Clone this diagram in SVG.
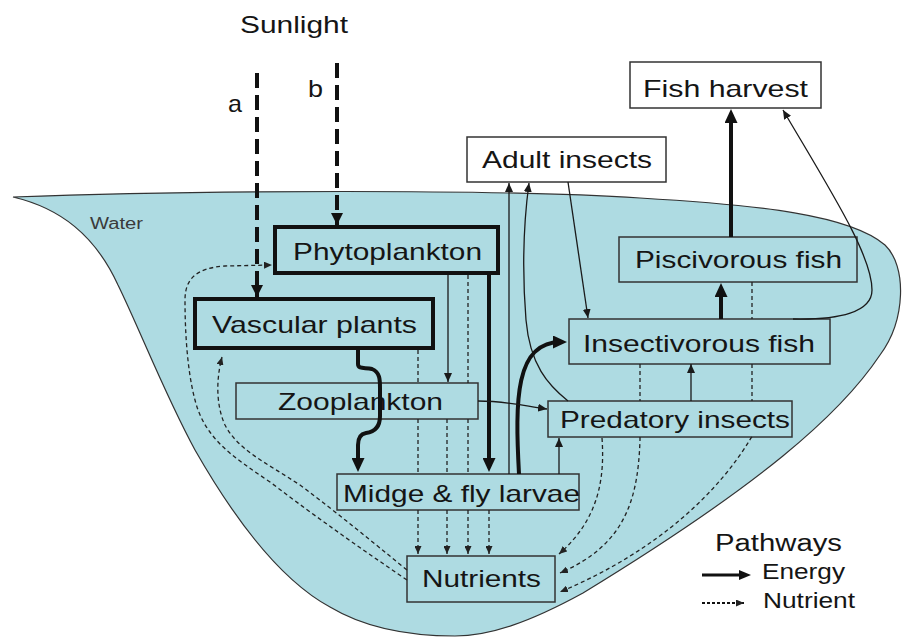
<svg xmlns="http://www.w3.org/2000/svg" width="907" height="638" viewBox="0 0 907 638">
<style>
text{font-family:"Liberation Sans",Arial,Helvetica,sans-serif;fill:#151515}
.lbl{font-size:24px;text-anchor:middle}
.box{fill:#aedbe2;stroke:#333;stroke-width:1.5}
.boxw{fill:#fff;stroke:#333;stroke-width:1.5}
.boxt{fill:#aedbe2;stroke:#111;stroke-width:4}
.en{fill:none;stroke:#1a1a1a;stroke-width:1.3}
.enT{fill:none;stroke:#111;stroke-width:4}
.nu{fill:none;stroke:#222;stroke-width:1.3;stroke-dasharray:4 3}
.sun{fill:none;stroke:#111;stroke-width:4;stroke-dasharray:15 7}
</style>
<defs>
<marker id="arrS" viewBox="0 0 9 8" refX="9" refY="4" markerWidth="9" markerHeight="8" markerUnits="userSpaceOnUse" orient="auto"><path d="M0,0 L9,4 L0,8 Z" fill="#1a1a1a"/></marker>
<marker id="arrN" viewBox="0 0 8 7" refX="8" refY="3.5" markerWidth="8" markerHeight="7" markerUnits="userSpaceOnUse" orient="auto"><path d="M0,0 L8,3.5 L0,7 Z" fill="#222"/></marker>
<marker id="arrL" viewBox="0 0 14 13" refX="8" refY="6.5" markerWidth="14" markerHeight="13" markerUnits="userSpaceOnUse" orient="auto"><path d="M0,0 L14,6.5 L0,13 Z" fill="#111"/></marker>
<marker id="arrM" viewBox="0 0 12 10" refX="7" refY="5" markerWidth="12" markerHeight="10" markerUnits="userSpaceOnUse" orient="auto"><path d="M0,0 L12,5 L0,10 Z" fill="#111"/></marker>
<marker id="arrSun" viewBox="0 0 12 12" refX="12" refY="6" markerWidth="12" markerHeight="12" markerUnits="userSpaceOnUse" orient="auto"><path d="M0,0 L12,6 L0,12 Z" fill="#111"/></marker>
</defs>

<g id="water">
<path d="M13,197 C200,190 500,189 640,198 C760,205 850,215 885,245 C907,266 906,320 880,355 C840,415 760,485 583,593 C530,622 490,636 455,636 C400,636 360,625 330,607 C280,580 235,520 195,450 C165,395 140,330 118,285 C95,235 60,208 13,197 Z" fill="#aedbe2" stroke="#333" stroke-width="1.2"/>
<text x="116.5" y="229" font-size="16" text-anchor="middle" textLength="53" lengthAdjust="spacingAndGlyphs" style="fill:#3a3a3a">Water</text>
</g>

<g id="sunlight">
<text x="294" y="33" class="lbl" textLength="108" lengthAdjust="spacingAndGlyphs">Sunlight</text>
<text x="235" y="112" class="lbl" textLength="14" lengthAdjust="spacingAndGlyphs">a</text>
<text x="315.5" y="97" class="lbl" textLength="15" lengthAdjust="spacingAndGlyphs">b</text>
</g>

<g id="phytoplankton"><rect class="boxt" x="275" y="227" width="223" height="46"/><text class="lbl" x="387.5" y="260" textLength="189" lengthAdjust="spacingAndGlyphs">Phytoplankton</text></g>
<g id="vascular-plants"><rect class="boxt" x="195" y="299" width="238" height="49"/><text class="lbl" x="314.5" y="333" textLength="205" lengthAdjust="spacingAndGlyphs">Vascular plants</text></g>
<g id="zooplankton"><rect class="box" x="236" y="383" width="242" height="36"/><text class="lbl" x="360.5" y="410" textLength="165" lengthAdjust="spacingAndGlyphs">Zooplankton</text></g>
<g id="midge-fly-larvae"><rect class="box" x="337" y="474" width="242" height="36"/><text class="lbl" x="461.5" y="502" textLength="237" lengthAdjust="spacingAndGlyphs">Midge &amp; fly larvae</text></g>
<g id="nutrients"><rect class="box" x="407" y="556" width="148" height="46"/><text class="lbl" x="481.5" y="587" textLength="119" lengthAdjust="spacingAndGlyphs">Nutrients</text></g>
<g id="adult-insects"><rect class="boxw" x="467" y="137" width="199" height="45"/><text class="lbl" x="567" y="168" textLength="170" lengthAdjust="spacingAndGlyphs">Adult insects</text></g>
<g id="fish-harvest"><rect class="boxw" x="630" y="62" width="191" height="46"/><text class="lbl" x="725.5" y="97" textLength="165" lengthAdjust="spacingAndGlyphs">Fish harvest</text></g>
<g id="piscivorous-fish"><rect class="box" x="619" y="237" width="238" height="45"/><text class="lbl" x="738.5" y="268" textLength="207" lengthAdjust="spacingAndGlyphs">Piscivorous fish</text></g>
<g id="insectivorous-fish"><rect class="box" x="569" y="319" width="261" height="45"/><text class="lbl" x="699" y="352" textLength="232" lengthAdjust="spacingAndGlyphs">Insectivorous fish</text></g>
<g id="predatory-insects"><rect class="box" x="548" y="401" width="244" height="36"/><text class="lbl" x="675" y="428" textLength="230" lengthAdjust="spacingAndGlyphs">Predatory insects</text></g>

<g id="connectors">
<!-- sunlight -->
<path class="sun" d="M257,73 L257,297" marker-end="url(#arrSun)"/>
<path class="sun" d="M337,63 L337,225" marker-end="url(#arrSun)"/>
<!-- nutrient pathways -->
<path class="nu" d="M407,580 C360,548 320,520 270,482 C235,458 205,440 195,400 C187,370 185,330 185,300 C185,280 195,268 225,266 L272,265" marker-end="url(#arrN)"/>
<path class="nu" d="M407,570 C370,540 340,515 300,485 C265,462 238,450 225,425 C216,405 216,380 222,357" marker-end="url(#arrN)"/>
<path class="nu" d="M418,350 L418,383 M418,419 L418,474 M418,510 L418,554" marker-end="url(#arrN)"/>
<path class="nu" d="M447,419 L447,474 M447,510 L447,554" marker-end="url(#arrN)"/>
<path class="nu" d="M468,275 L468,383 M468,419 L468,474 M468,510 L468,554" marker-end="url(#arrN)"/>
<path class="nu" d="M489,510 L489,554" marker-end="url(#arrN)"/>
<path class="nu" d="M602,438 C605,480 598,520 559,554" marker-end="url(#arrN)"/>
<path class="nu" d="M640,364 L640,401 M640,437 L640,440 C638,500 625,545 560,573" marker-end="url(#arrN)"/>
<path class="nu" d="M752,282 L752,319 M752,364 L752,401 M752,437 L751,438 C720,490 660,550 560,592" marker-end="url(#arrN)"/>
<!-- energy pathways -->
<path class="enT" d="M358,350 L358,364 C358,370 366,367 372,369 C380,372 380,380 380,388 L380,416 C380,428 374,432 366,433 C360,434 358,438 358,445 L358,466" marker-end="url(#arrL)"/>
<path class="enT" d="M489,275 L489,466" marker-end="url(#arrL)"/>
<path class="en" d="M448,275 L448,382" marker-end="url(#arrS)"/>
<path class="en" d="M509,474 L509,183" marker-end="url(#arrS)"/>
<path class="en" d="M568,401 C548,385 530,365 526,320 C522,270 524,220 529,183" marker-end="url(#arrS)"/>
<path class="enT" d="M519,474 C515,400 515,342 561,342" marker-end="url(#arrL)"/>
<path class="en" d="M559,474 L559,438" marker-end="url(#arrS)"/>
<path class="en" d="M691,401 L691,364" marker-end="url(#arrS)"/>
<path class="enT" d="M721,319 L721,289" marker-end="url(#arrL)"/>
<path class="enT" d="M731,237 L731,115" marker-end="url(#arrL)"/>
<path class="en" d="M793,319 C840,320 872,312 872,290 C872,255 830,190 783,110" marker-end="url(#arrS)"/>
<path class="en" d="M568,182 L588,318" marker-end="url(#arrS)"/>
<path class="en" d="M478,401 C505,401 520,405 547,409" marker-end="url(#arrS)"/>
</g>

<g id="legend">
<text x="778.5" y="551" font-size="23" text-anchor="middle" textLength="127" lengthAdjust="spacingAndGlyphs">Pathways</text>
<path d="M702,575 L746,575" fill="none" stroke="#111" stroke-width="3" marker-end="url(#arrM)"/>
<text x="762" y="579" font-size="22" textLength="83" lengthAdjust="spacingAndGlyphs">Energy</text>
<path d="M702,603 L744,603" fill="none" stroke="#111" stroke-width="2" stroke-dasharray="3 2" marker-end="url(#arrN)"/>
<text x="763" y="608" font-size="22" textLength="92" lengthAdjust="spacingAndGlyphs">Nutrient</text>
</g>
</svg>
